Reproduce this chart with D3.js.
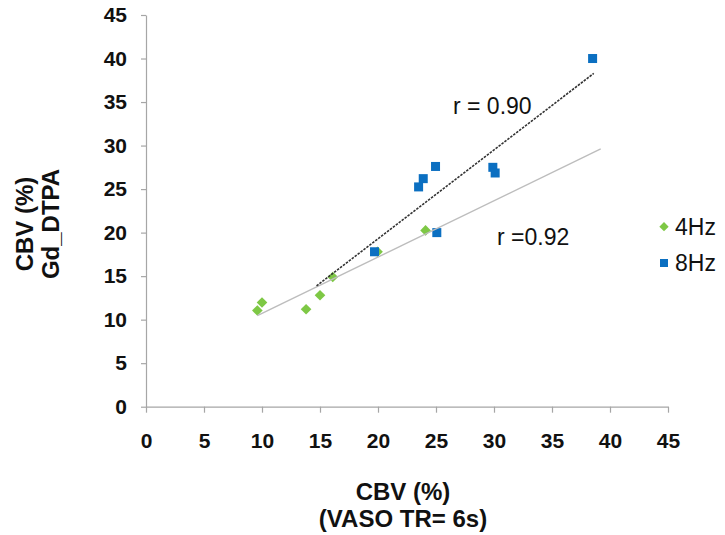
<!DOCTYPE html>
<html>

<head>
    <meta charset="utf-8">
    <style>
        body {
            margin: 0;
            background: #fff;
            font-family: "Liberation Sans", Arial, sans-serif;
        }

        svg {
            display: block;
        }

        .axis .domain,
        .axis .tick line {
            stroke: #a6a6a6;
            stroke-width: 1.2;
        }

        .axis .tick text {
            font-size: 21px;
            font-weight: bold;
            fill: #111;
        }

        .axis-title {
            font-size: 24px;
            font-weight: bold;
            fill: #111;
        }

        .r-label,
        .legend-label {
            font-size: 23px;
            fill: #111;
        }
    </style>
</head>

<body>
    <svg width="725" height="535"></svg>

    <script src="https://d3js.org/d3.v7.min.js"></script>
    <script>
        let width = 725;
        let height = 535;

        // tick labels
        let xTicks = [0, 5, 10, 15, 20, 25, 30, 35, 40, 45];
        let yTicks = [0, 5, 10, 15, 20, 25, 30, 35, 40, 45];

        // 4Hz stimulation (green diamonds)
        let x4Hz = [9.6, 10.0, 13.8, 15.0, 16.1, 19.96, 24.1];
        let y4Hz = [11.05, 11.97, 11.2, 12.8, 14.9, 17.8, 20.25];

        // 8Hz stimulation (blue squares)
        let x8Hz = [19.7, 25.07, 38.5, 24.96, 23.9, 23.5, 29.9, 30.1];
        let y8Hz = [17.8, 20.0, 40.0, 27.6, 26.2, 25.25, 27.5, 26.85];

        // x span the excel trendlines were drawn over
        let trend4Span = [9.6, 39.2];
        let trend8Span = [14.7, 38.6];

        let rLabels = ["r = 0.90", "r =0.92"];
        let seriesNames = ["4Hz", "8Hz"];

        let green = "#7ec845";
        let blue = "#0b6fc1";

        let svg = d3.select("svg");

        let x = d3.scaleLinear()
            .domain([0, 45])
            .range([146, 668]);

        let y = d3.scaleLinear()
            .domain([0, 45])
            .range([406.7, 15]);

        // axes
        svg.append("g")
            .attr("class", "x axis")
            .attr("transform", `translate(0,${y(0)})`)
            .call(d3.axisBottom(x)
                .tickValues(xTicks)
                .tickSize(6)
                .tickPadding(20)
                .tickSizeOuter(0))

        svg.append("g")
            .attr("class", "y axis")
            .attr("transform", `translate(${x(0)},0)`)
            .call(d3.axisLeft(y)
                .tickValues(yTicks)
                .tickSize(5)
                .tickPadding(14)
                .tickSizeOuter(0))

        // least squares fit, like excel's linear trendline
        function fit(xs, ys) {
            let mx = d3.mean(xs), my = d3.mean(ys);
            let sxy = d3.sum(xs, (v, i) => (v - mx) * (ys[i] - my));
            let sxx = d3.sum(xs, v => (v - mx) * (v - mx));
            let slope = sxy / sxx;
            return v => my + slope * (v - mx);
        }

        let pts4 = x4Hz.map((v, i) => ({ x: v, y: y4Hz[i] }));
        let pts8 = x8Hz.map((v, i) => ({ x: v, y: y8Hz[i] }));

        // markers
        svg.append("g")
            .selectAll("path")
            .data(pts4)
            .join("path")
            .attr("transform", d => `translate(${x(d.x)},${y(d.y)})`)
            .attr("d", d3.symbol(d3.symbolDiamond2, 72))
            .attr("fill", green)

        svg.append("g")
            .selectAll("rect")
            .data(pts8)
            .join("rect")
            .attr("x", d => x(d.x) - 4.5)
            .attr("y", d => y(d.y) - 4.5)
            .attr("width", 9)
            .attr("height", 9)
            .attr("fill", blue)

        // trendlines
        let line = d3.line()
            .x(d => x(d[0]))
            .y(d => y(d[1]))

        let f4 = fit(x4Hz, y4Hz);
        svg.append("path")
            .attr("d", line(trend4Span.map(v => [v, f4(v)])))
            .attr("fill", "none")
            .attr("stroke", "#bdbdbd")
            .attr("stroke-width", 1.4)

        let f8 = fit(x8Hz, y8Hz);
        svg.append("path")
            .attr("d", line(trend8Span.map(v => [v, f8(v)])))
            .attr("fill", "none")
            .attr("stroke", "#333")
            .attr("stroke-width", 1.6)
            .attr("stroke-dasharray", "2.5,1.2")

        // r labels
        svg.append("text")
            .attr("class", "r-label")
            .attr("x", 453)
            .attr("y", 114)
            .text(rLabels[0])

        svg.append("text")
            .attr("class", "r-label")
            .attr("x", 497)
            .attr("y", 245)
            .text(rLabels[1])

        // legend
        let legend = svg.append("g")
            .attr("transform", "translate(664,0)")

        legend.append("path")
            .attr("transform", "translate(0,226.7)")
            .attr("d", d3.symbol(d3.symbolDiamond2, 55))
            .attr("fill", green)

        legend.append("rect")
            .attr("x", -4)
            .attr("y", 259)
            .attr("width", 8)
            .attr("height", 8)
            .attr("fill", blue)

        legend.append("text")
            .attr("class", "legend-label")
            .attr("x", 11)
            .attr("y", 235)
            .text(seriesNames[0])

        legend.append("text")
            .attr("class", "legend-label")
            .attr("x", 11)
            .attr("y", 271)
            .text(seriesNames[1])

        // axis titles
        svg.append("text")
            .attr("class", "axis-title")
            .attr("text-anchor", "middle")
            .attr("x", 403)
            .attr("y", 500)
            .text("CBV (%)")

        svg.append("text")
            .attr("class", "axis-title")
            .attr("text-anchor", "middle")
            .attr("x", 403)
            .attr("y", 527)
            .text("(VASO TR= 6s)")

        svg.append("text")
            .attr("class", "axis-title")
            .attr("text-anchor", "middle")
            .attr("transform", "translate(33,224) rotate(-90)")
            .text("CBV (%)")

        svg.append("text")
            .attr("class", "axis-title")
            .attr("text-anchor", "middle")
            .attr("transform", "translate(59,224) rotate(-90)")
            .text("Gd_DTPA")
    </script>
</body>

</html>
